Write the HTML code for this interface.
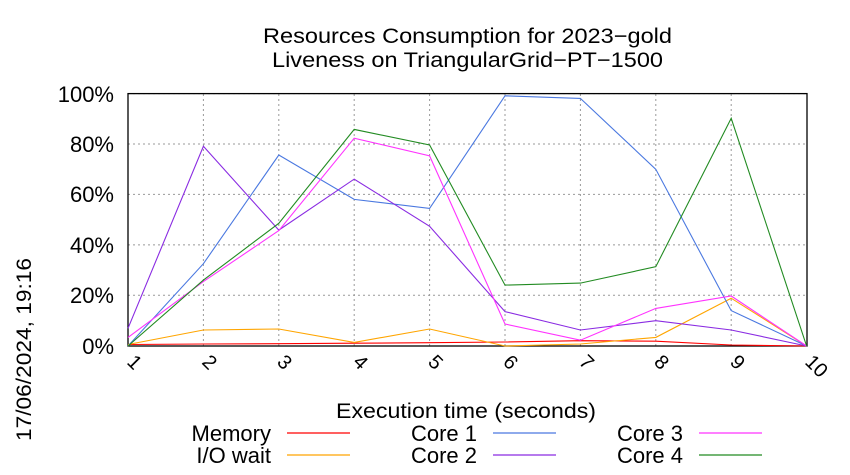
<!DOCTYPE html>
<html><head><meta charset="utf-8"><style>html,body{margin:0;padding:0;background:#fff}svg{display:block}text{font-family:"Liberation Sans",sans-serif;fill:#000}</style></head>
<body>
<svg width="850" height="475" viewBox="0 0 850 475" xmlns="http://www.w3.org/2000/svg">
<text x="263" y="43" font-size="21" textLength="409" lengthAdjust="spacingAndGlyphs">Resources Consumption for 2023−gold</text>
<text x="272" y="67" font-size="21" textLength="391" lengthAdjust="spacingAndGlyphs">Liveness on TriangularGrid−PT−1500</text>
<g stroke="#999" stroke-width="1" stroke-dasharray="2,3" fill="none">
<path d="M128 295.3H807M128 244.9H807M128 194.4H807M128 144H807M128 93.6H807"/>
<path d="M203.4 94V346M278.8 94V346M354.2 94V346M429.6 94V346M505 94V346M580.4 94V346M655.8 94V346M731.2 94V346"/>
</g>
<rect x="128" y="93.6" width="679" height="252.4" fill="none" stroke="#000" stroke-width="1.3"/>
<g font-size="22" text-anchor="end">
<text x="114" y="354">0%</text><text x="114" y="303">20%</text><text x="114" y="253">40%</text><text x="114" y="202">60%</text><text x="114" y="152">80%</text><text x="114" y="102">100%</text>
</g>
<g font-size="20">
<text transform="translate(126,363) rotate(45)">1</text>
<text transform="translate(201,363) rotate(45)">2</text>
<text transform="translate(276,363) rotate(45)">3</text>
<text transform="translate(352,363) rotate(45)">4</text>
<text transform="translate(427,363) rotate(45)">5</text>
<text transform="translate(502,363) rotate(45)">6</text>
<text transform="translate(578,363) rotate(45)">7</text>
<text transform="translate(653,363) rotate(45)">8</text>
<text transform="translate(729,363) rotate(45)">9</text>
<text transform="translate(804,363) rotate(45)">10</text>
</g>
<text x="336" y="418" font-size="21" textLength="260" lengthAdjust="spacingAndGlyphs">Execution time (seconds)</text>
<text transform="translate(31,441) rotate(-90)" font-size="21" textLength="183" lengthAdjust="spacingAndGlyphs">17/06/2024, 19:16</text>
<g fill="none" stroke-width="1.1">
<polyline stroke="#ff0000" points="128,344.5 203.4,344 278.8,343.7 354.2,343.2 429.6,342.7 505,342 580.4,340.7 655.8,341.2 731.2,345 806.6,346"/>
<polyline stroke="#ffa500" points="128,344.5 203.4,330 278.8,329 354.2,342.4 429.6,329 505,346 580.4,344 655.8,337.4 731.2,298.2 806.6,346"/>
<polyline stroke="#4a78e0" points="128,346 203.4,263.7 278.8,155 354.2,199.4 429.6,208.4 505,95.8 580.4,98.4 655.8,169.3 731.2,310.6 806.6,346"/>
<polyline stroke="#8a2be2" points="128,328.3 203.4,146.3 278.8,230.1 354.2,179.1 429.6,226.3 505,311.6 580.4,330 655.8,320.7 731.2,330 806.6,346"/>
<polyline stroke="#ff33ff" points="128,337.4 203.4,281.6 278.8,230.6 354.2,138.2 429.6,155.9 505,324 580.4,340.2 655.8,308.4 731.2,296 806.6,346"/>
<polyline stroke="#228b22" points="128,346 203.4,280.1 278.8,223.3 354.2,129.4 429.6,145 505,285.1 580.4,283.1 655.8,266.7 731.2,118.3 806.6,346"/>
</g>
<g font-size="22" text-anchor="end">
<text x="271" y="441">Memory</text><text x="271" y="463">I/O wait</text>
<text x="477" y="441">Core 1</text><text x="477" y="463">Core 2</text>
<text x="683" y="441">Core 3</text><text x="683" y="463">Core 4</text>
</g>
<g stroke-width="1.2">
<line x1="287" y1="433" x2="350" y2="433" stroke="#ff0000"/>
<line x1="287" y1="455" x2="350" y2="455" stroke="#ffa500"/>
<line x1="493" y1="433" x2="556" y2="433" stroke="#4a78e0"/>
<line x1="493" y1="455" x2="556" y2="455" stroke="#8a2be2"/>
<line x1="699" y1="433" x2="762" y2="433" stroke="#ff33ff"/>
<line x1="699" y1="455" x2="762" y2="455" stroke="#228b22"/>
</g>
</svg>
</body></html>
